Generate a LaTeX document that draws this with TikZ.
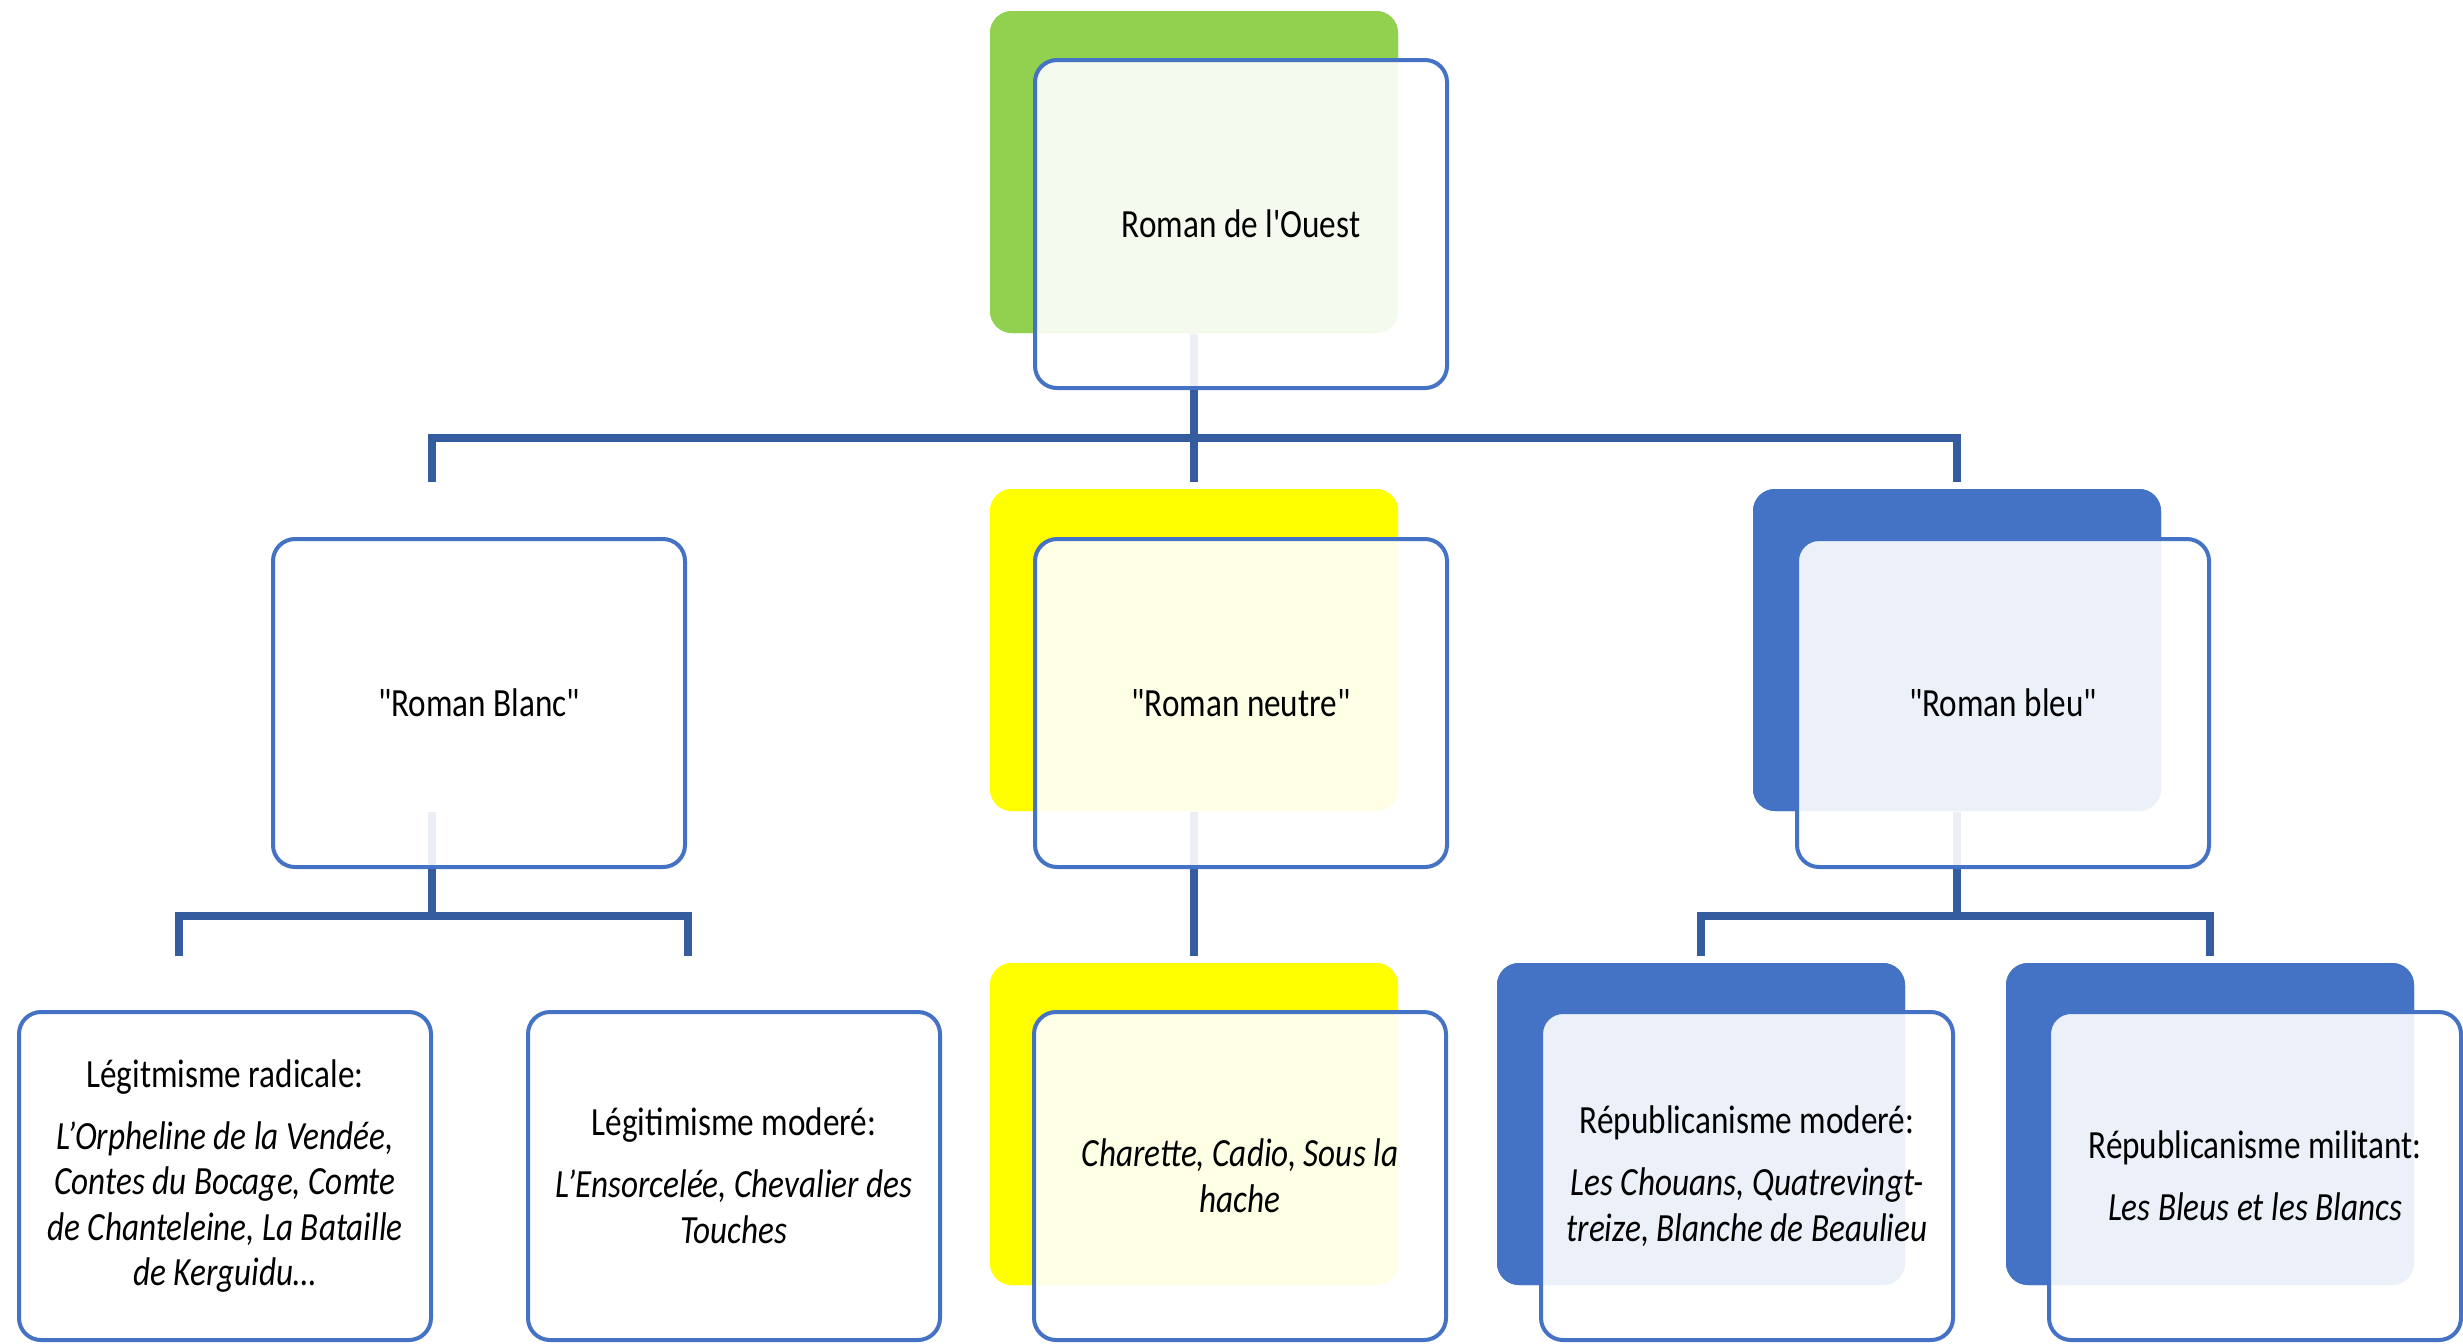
\documentclass[tikz,border=0pt]{standalone}
\usepackage{fontspec}
\setmainfont{Carlito}[FakeStretch=0.83,Ligatures=TeXOff]
\definecolor{frontblue}{HTML}{4472C4}
\definecolor{backblue}{HTML}{4472C4}
\definecolor{sagreen}{HTML}{92D050}
\definecolor{sayellow}{HTML}{FFFF00}
\definecolor{conncol}{HTML}{345C9F}
\begin{document}
\begin{tikzpicture}[x=0.25pt,y=-0.25pt,
  backbox/.style={rectangle,rounded corners=5.5pt,draw=none,inner sep=0pt,
    minimum width=102pt,minimum height=80.5pt},
  frontbox/.style={rectangle,rounded corners=5.5pt,draw=frontblue,line width=1pt,
    fill=white,fill opacity=0.9,text opacity=1,inner sep=2pt,
    minimum width=103pt,minimum height=82pt,align=center,
    font=\fontsize{10}{11.4}\selectfont},
  conn/.style={draw=conncol,line width=2pt},
  drop/.style={conn,shorten >=1.5pt}]
\useasboundingbox (0,0) rectangle (2463,1343);
% back boxes
\node[backbox,fill=sagreen] (top) at (1194,172) {};
\node[backbox,fill=white] (blanc) at (432,650) {};
\node[backbox,fill=sayellow] (neutre) at (1194,650) {};
\node[backbox,fill=backblue] (bleu) at (1957,650) {};
\node[backbox,fill=white] (rad) at (179,1124) {};
\node[backbox,fill=white] (lmod) at (688,1124) {};
\node[backbox,fill=sayellow] (char) at (1194,1124) {};
\node[backbox,fill=backblue] (rmod) at (1701,1124) {};
\node[backbox,fill=backblue] (rmil) at (2210,1124) {};
% connectors
\coordinate (bar1) at (1194,438);
\coordinate (bar2) at (432,916);
\coordinate (bar3) at (1957,916);
\draw[conn] (top.south) -- (bar1);
\draw[drop] (bar1) -| (blanc.north);
\draw[drop] (bar1) -| (bleu.north);
\draw[drop] (bar1) -- (neutre.north);
\draw[conn] (blanc.south) -- (bar2);
\draw[drop] (bar2) -| (rad.north);
\draw[drop] (bar2) -| (lmod.north);
\draw[drop] (neutre.south) -- (char.north);
\draw[conn] (bleu.south) -- (bar3);
\draw[drop] (bar3) -| (rmod.north);
\draw[drop] (bar3) -| (rmil.north);
% back boxes again on top of connectors' start
\node[backbox,fill=sagreen] at (top.center) {};
\node[backbox,fill=sayellow] at (neutre.center) {};
\node[backbox,fill=backblue] at (bleu.center) {};
\node[backbox,fill=sayellow] at (char.center) {};
\node[backbox,fill=backblue] at (rmod.center) {};
\node[backbox,fill=backblue] at (rmil.center) {};
% front boxes
\node[frontbox] (topF) at ([shift={(47,52)}]top.center) {Roman de l'Ouest};
\node[frontbox] (blancF) at ([shift={(47,53)}]blanc.center) {"Roman Blanc"};
\node[frontbox] (neutreF) at ([shift={(47,53)}]neutre.center) {"Roman neutre"};
\node[frontbox] (bleuF) at ([shift={(46,53)}]bleu.center) {"Roman bleu"};
\node[frontbox] (radF) at ([shift={(46,52)}]rad.center) {Légitmisme radicale:\\[4.1pt]
  \textit{L’Orpheline de la Vendée,}\\\textit{Contes du Bocage, Comte}\\
  \textit{de Chanteleine, La Bataille}\\\textit{de Kerguidu…}};
\node[frontbox] (lmodF) at ([shift={(46,52)}]lmod.center) {Légitimisme moderé:\\[4.1pt]
  \textit{L’Ensorcelée, Chevalier des}\\\textit{Touches}};
\node[frontbox] (charF) at ([shift={(46,52)}]char.center) {\textit{Charette, Cadio, Sous la}\\\textit{hache}};
\node[frontbox] (rmodF) at ([shift={(46,52)}]rmod.center) {Républicanisme moderé:\\[4.1pt]
  \textit{Les Chouans, Quatrevingt-}\\\textit{treize, Blanche de Beaulieu}};
\node[frontbox] (rmilF) at ([shift={(45,52)}]rmil.center) {Républicanisme militant:\\[4.1pt]
  \textit{Les Bleus et les Blancs}};
\end{tikzpicture}
\end{document}
